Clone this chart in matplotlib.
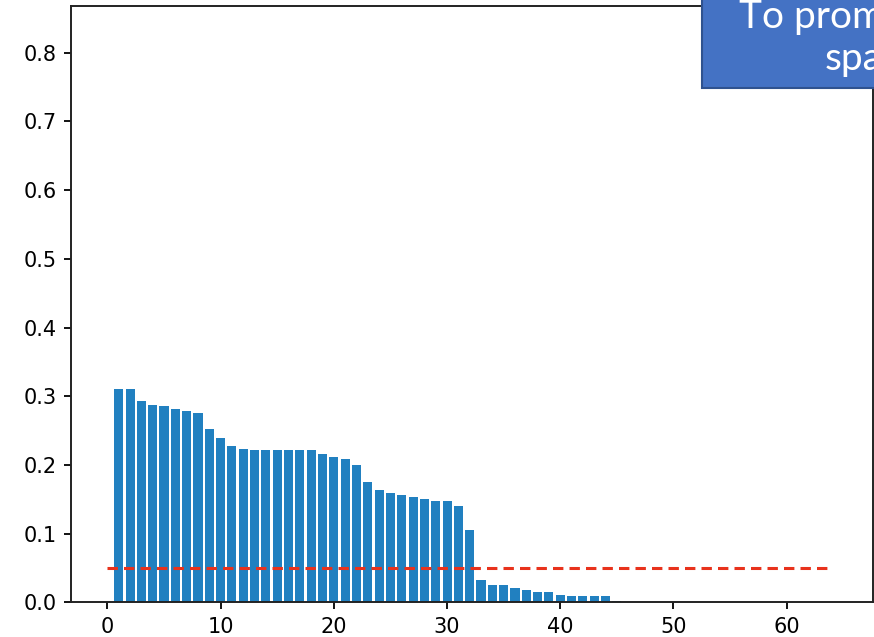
import matplotlib.pyplot as plt
from matplotlib.patches import Rectangle

# per-channel scaling factor, sorted descending (channels 1..64)
channels = list(range(1, 65))
scale_values = [
    0.311, 0.311, 0.293, 0.288, 0.286, 0.281, 0.279, 0.276,
    0.253, 0.240, 0.227, 0.224, 0.222, 0.222, 0.222, 0.222,
    0.222, 0.222, 0.216, 0.212, 0.209, 0.200, 0.175, 0.164,
    0.160, 0.157, 0.153, 0.151, 0.148, 0.148, 0.140, 0.106,
    0.033, 0.026, 0.025, 0.021, 0.018, 0.0155, 0.0155, 0.011,
    0.009, 0.009, 0.009, 0.009, 0.002, 0.001, 0.001, 0.001,
    0.001, 0.001, 0.001, 0.001, 0.001, 0.0, 0.0, 0.0,
    0.0, 0.0, 0.0, 0.0, 0.0, 0.0, 0.0, 0.0,
]
threshold = 0.05
yticks = [0.0, 0.1, 0.2, 0.3, 0.4, 0.5, 0.6, 0.7, 0.8]

fig = plt.figure(figsize=(8.74, 6.37), dpi=100)
ax = fig.add_axes([0.0812, 0.0542, 0.9176, 0.9364])

ax.bar(channels, scale_values, width=0.8, color='#2180c0')
ax.hlines(threshold, 0, len(channels), colors='#e8321c', linestyles=(0, (3.4, 2.0)),
          linewidth=2.2)

ax.set_ylim(0, 0.868)
ax.set_yticks(yticks)
ax.tick_params(labelsize=15, length=5, width=1.3, pad=5.5)
for sp in ax.spines.values():
    sp.set_linewidth(1.4)
    sp.set_color('#222222')

# callout box in the top right corner
fig.patches.append(Rectangle((702 / 874, 1 - 88 / 637), 0.3, 0.2,
                             transform=fig.transFigure, facecolor='#4472c4',
                             edgecolor='#2f528f', linewidth=1.5, zorder=5))
fig.text(739 / 874, 1 - 28 / 637, 'To promote', color='white', fontsize=28,
         family='Lato', va='baseline', ha='left', zorder=6)
fig.text(825 / 874, 1 - 70 / 637, 'sparsity', color='white', fontsize=28,
         family='Lato', va='baseline', ha='left', zorder=6)

fig.savefig('out.png', dpi=100)
